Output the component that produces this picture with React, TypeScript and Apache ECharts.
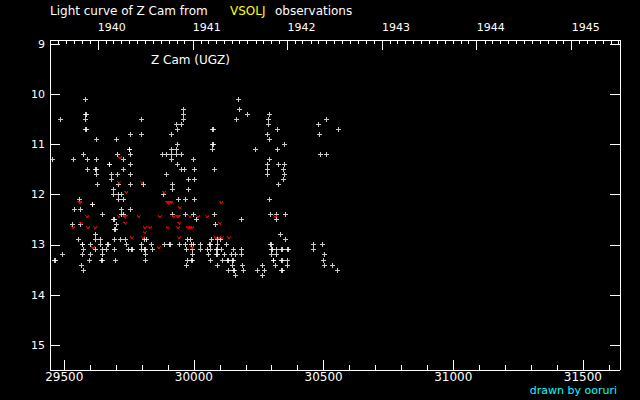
import React, { useEffect, useRef } from 'react';
import * as echarts from 'echarts';

// ---- axis ranges & ticks ----
const JD_MIN = 29445;
const JD_MAX = 31643;
const MAG_MIN = 8.92;
const MAG_MAX = 15.49;
const JD_TICKS = [29500, 30000, 30500, 31000, 31500];
const JD_MINOR_TICKS = [
  29600, 29700, 29800, 29900, 30100, 30200, 30300, 30400, 30600, 30700, 30800,
  30900, 31100, 31200, 31300, 31400, 31600,
];
const MAG_TICKS = [9, 10, 11, 12, 13, 14, 15];
const YEAR_LABELS = ['1940', '1941', '1942', '1943', '1944', '1945'];
const YEAR_STARTS = [29629.5, 29995.5, 30360.5, 30725.5, 31090.5, 31456.5];
const CAL_YEAR_STARTS = [29264.5, 29629.5, 29995.5, 30360.5, 30725.5, 31090.5, 31456.5];
const CAL_LEAP = [false, true, false, false, false, true, false];
const MONTH_DAYS = [31, 28, 31, 30, 31, 30, 31, 31, 30, 31, 30, 31];

// ---- observations: [magnitude, JD-2400000 list] ----
const VISUAL_OBS: [number, number[]][] = [
  [10.1, [29580, 30170]],
  [10.3, [29958, 30174]],
  [10.4, [29582, 29585, 29958, 30205, 30290]],
  [10.5, [29484, 29583, 29796, 29958, 30166, 30286, 30513]],
  [10.6, [29931, 29954, 30286, 30482]],
  [10.7, [29583, 29586, 29935, 30072, 30075, 30324, 30556]],
  [10.8, [29754, 29796, 29912, 30282, 30486]],
  [10.9, [29626, 29703, 30290]],
  [11.0, [29935, 30072, 30075, 30351]],
  [11.1, [29750, 29753, 29912, 29931, 30070, 30236, 30324]],
  [11.2, [29576, 29707, 29754, 29877, 29896, 29912, 29931, 29954, 30490, 30513]],
  [11.3, [29453, 29534, 29588, 29626, 29727, 29912, 30000, 30293]],
  [11.4, [29673, 29676, 29754, 29935, 30282, 30328, 30351]],
  [11.5, [29588, 29622, 29625, 29727, 29954, 29962, 30004, 30081, 30282, 30347]],
  [11.6, [29626, 29684, 29707, 29757, 29896, 30282, 30351]],
  [11.7, [29684, 29981, 30004, 30347]],
  [11.8, [29630, 29711, 29757, 29804, 29916, 30328]],
  [11.9, [29688, 29916, 29981]],
  [12.0, [29688, 29709, 29719, 29881]],
  [12.1, [29557, 29711, 29730, 29939, 29966, 30004, 30293]],
  [12.2, [29607, 29610]],
  [12.3, [29538, 29561, 29719, 29757]],
  [12.4, [29649, 29719, 29727, 29918, 29966, 30000, 30081, 30297, 30320, 30355]],
  [12.5, [29689, 29692, 30008, 30182, 30320]],
  [12.6, [29530, 29561, 29700, 30085]],
  [12.7, [29694, 29697]],
  [12.8, [29622, 30332]],
  [12.9, [29553, 29619, 29638, 29692, 29715, 29735, 29808, 29819, 29977, 29985, 30066, 30089, 30101, 30355]],
  [13.0, [29569, 29572, 29603, 29638, 29666, 29669, 29739, 29796, 29838, 29885, 29905, 29908, 29946, 29966, 29989, 30000, 30024, 30060, 30063, 30089, 30124, 30296, 30299, 30463, 30494]],
  [13.1, [29576, 29622, 29646, 29661, 29692, 29746, 29761, 29764, 29796, 29808, 29815, 29842, 29970, 29995, 30024, 30054, 30062, 30088, 30091, 30105, 30151, 30185, 30299, 30302, 30317, 30338, 30341, 30361, 30364, 30463]],
  [13.2, [29495, 29572, 29603, 29646, 29815, 29993, 30058, 30088, 30091, 30116, 30143, 30159, 30185, 30301, 30317, 30502]],
  [13.3, [29464, 29467, 29599, 29642, 29649, 29696, 29815, 29977, 29991, 29994, 30062, 30112, 30128, 30132, 30147, 30152, 30305, 30308, 30338, 30341, 30359, 30498]],
  [13.4, [29565, 29973, 30089, 30147, 30189, 30266, 30313, 30359, 30502, 30533]],
  [13.5, [29576, 30135, 30153, 30156, 30193, 30247, 30274, 30337, 30340, 30552]],
  [13.6, [30159, 30263]],
];

const FAINTER_OBS: [number, number[]][] = [
  [11.27, [29715]],
  [11.76, [29711, 29800]],
  [11.96, [29739, 29885]],
  [12.16, [29559, 29562, 29898, 29902, 29906, 29913, 30105]],
  [12.26, [29946]],
  [12.44, [29588, 29711, 29733, 29736, 29788, 29869, 29923, 29937, 29940, 29985, 30016, 30051, 30313]],
  [12.57, [29565, 29735, 29943, 30101]],
  [12.66, [29534, 29592, 29619, 29811, 29831, 29900, 29939, 29977, 29985, 29993]],
  [12.76, [29811]],
  [12.86, [29761, 29804, 29943, 30085, 30097, 30108, 30135]],
  [13.06, [29611, 29865, 29993]],
];

const FONT = 'DejaVu Sans';
const PLUS = 'path://M2,0H3V2H5V3H3V5H2V3H0V2H2Z';
const VEE = 'path://M0,0H1.6L2.5,1.8L3.4,0H5L2.5,3.6Z';

function toPoints(rows: [number, number[]][]) {
  const out: number[][] = [];
  rows.forEach(([mag, jds]) => jds.forEach((jd) => out.push([jd, mag])));
  return out;
}

function monthTicks() {
  const out: number[] = [];
  CAL_YEAR_STARTS.forEach((start, i) => {
    let d = start;
    MONTH_DAYS.forEach((len, m) => {
      if (m > 0 && d > JD_MIN && d < JD_MAX) out.push(d);
      d += len + (m === 1 && CAL_LEAP[i] ? 1 : 0);
    });
  });
  return out;
}

export default function App() {
  const ref = useRef<HTMLDivElement>(null);
  useEffect(() => {
    if (!ref.current) return;
    const chart = echarts.init(ref.current, undefined, { renderer: 'svg' });
    const white = '#ffffff';
    const lineStyle = { color: white, width: 1 };
    const grid = { left: 50, top: 40, width: 570, height: 330 };
    chart.setOption({
      animation: false,
      backgroundColor: '#000000',
      grid,
      xAxis: [
        {
          type: 'value', position: 'bottom', min: JD_MIN, max: JD_MAX,
          axisLine: { show: true, lineStyle },
          axisTick: { show: true, inside: true, length: 10, lineStyle, customValues: JD_TICKS },
          axisLabel: {
            show: true, customValues: JD_TICKS, color: white, fontSize: 12, fontFamily: FONT,
            margin: 1, lineHeight: 12, formatter: (v: number) => String(v),
          },
          splitLine: { show: false },
        },
        {
          type: 'value', position: 'bottom', min: JD_MIN, max: JD_MAX,
          axisLine: { show: false },
          axisTick: { show: true, inside: true, length: 5, lineStyle, customValues: JD_MINOR_TICKS },
          axisLabel: { show: false },
          splitLine: { show: false },
        },
        {
          type: 'value', position: 'top', min: JD_MIN, max: JD_MAX,
          axisLine: { show: true, lineStyle },
          axisTick: { show: true, inside: true, length: 10, lineStyle, customValues: YEAR_STARTS },
          axisLabel: {
            show: true, customValues: YEAR_STARTS, color: white, fontSize: 11, fontFamily: FONT,
            margin: 7, align: 'left',
            formatter: (v: number) => YEAR_LABELS[YEAR_STARTS.indexOf(v)] ?? '',
          },
          splitLine: { show: false },
        },
        {
          type: 'value', position: 'top', min: JD_MIN, max: JD_MAX,
          axisLine: { show: false },
          axisTick: { show: true, inside: true, length: 4, lineStyle, customValues: monthTicks() },
          axisLabel: { show: false },
          splitLine: { show: false },
        },
      ],
      yAxis: [
        {
          type: 'value', position: 'left', inverse: true, min: MAG_MIN, max: MAG_MAX,
          axisLine: { show: true, lineStyle },
          axisTick: { show: true, inside: true, length: 10, lineStyle, customValues: MAG_TICKS },
          axisLabel: { show: true, customValues: MAG_TICKS, color: white, fontSize: 11, fontFamily: FONT, margin: 5 },
          splitLine: { show: false },
        },
        {
          type: 'value', position: 'right', inverse: true, min: MAG_MIN, max: MAG_MAX,
          axisLine: { show: true, lineStyle },
          axisTick: { show: true, inside: true, length: 10, lineStyle, customValues: MAG_TICKS },
          axisLabel: { show: false },
          splitLine: { show: false },
        },
      ],
      series: [
        {
          type: 'scatter', xAxisIndex: 0, yAxisIndex: 0, silent: true,
          data: toPoints(VISUAL_OBS), symbol: PLUS, symbolSize: 5,
          itemStyle: { color: white },
        },
        {
          type: 'scatter', xAxisIndex: 0, yAxisIndex: 0, silent: true,
          data: toPoints(FAINTER_OBS), symbol: VEE, symbolSize: [5, 3.6],
          itemStyle: { color: '#ff0000' },
        },
      ],
      graphic: [
        { type: 'text', x: 50, y: 11, style: { text: 'Light curve of Z Cam from', fill: white, fontSize: 12, fontFamily: FONT, verticalAlign: 'middle' } },
        { type: 'text', x: 230, y: 11, style: { text: 'VSOLJ', fill: '#ffff00', fontSize: 12, fontFamily: FONT, verticalAlign: 'middle' } },
        { type: 'text', x: 275, y: 11, style: { text: 'observations', fill: white, fontSize: 12, fontFamily: FONT, verticalAlign: 'middle' } },
        { type: 'text', x: 151, y: 60, style: { text: 'Z Cam (UGZ)', fill: white, fontSize: 12, fontFamily: FONT, verticalAlign: 'middle' } },
        { type: 'text', x: 617, y: 390, style: { text: 'drawn by ooruri', fill: '#00ffff', fontSize: 11, fontFamily: FONT, align: 'right', verticalAlign: 'middle' } },
      ],
    });
    return () => chart.dispose();
  }, []);
  return (
    <>
      <style>{'#zcam-chart path { shape-rendering: crispEdges; }'}</style>
      <div
        id="zcam-chart"
        ref={ref}
        style={{ position: 'fixed', left: 0, top: 0, width: 640, height: 400, background: '#000' }}
      />
    </>
  );
}
